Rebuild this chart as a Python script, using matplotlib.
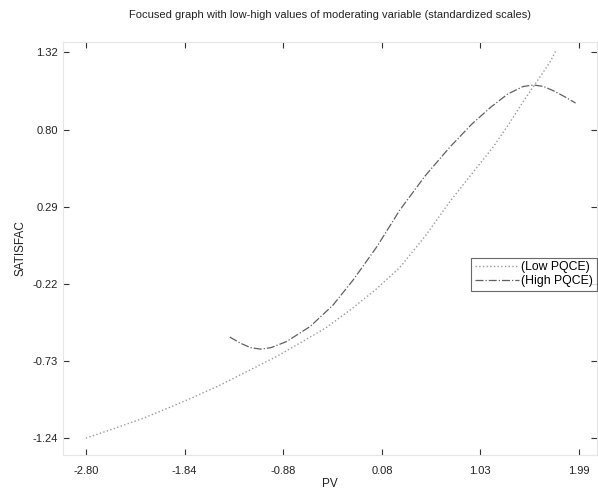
import numpy as np
import matplotlib
matplotlib.use('Agg')
import matplotlib.pyplot as plt

plt.rcParams['font.family'] = ['Liberation Sans', 'DejaVu Sans']

# values
low_x = [-2.80, -2.50, -2.25, -2.00, -1.76, -1.50, -1.21, -0.95, -0.72, -0.47,
         -0.23, 0.01, 0.25, 0.50, 0.74, 0.95, 1.16, 1.32, 1.45, 1.58, 1.71, 1.77]
low_y = [-1.24, -1.17, -1.11, -1.04, -0.97, -0.89, -0.79, -0.70, -0.61, -0.51,
         -0.39, -0.26, -0.11, 0.10, 0.33, 0.51, 0.69, 0.85, 0.99, 1.12, 1.25, 1.33]

high_x = [-1.40, -1.30, -1.20, -1.10, -1.00, -0.85, -0.62, -0.40, -0.20, 0.03,
          0.25, 0.50, 0.74, 0.95, 1.13, 1.30, 1.45, 1.55, 1.65, 1.75, 1.86, 1.96]
high_y = [-0.57, -0.61, -0.64, -0.65, -0.64, -0.60, -0.50, -0.36, -0.19, 0.03,
          0.27, 0.50, 0.69, 0.84, 0.95, 1.04, 1.09, 1.10, 1.09, 1.06, 1.02, 0.98]

x_ticks = [-2.80, -1.84, -0.88, 0.08, 1.03, 1.99]
y_ticks = [-1.24, -0.73, -0.22, 0.29, 0.80, 1.32]

fig = plt.figure(figsize=(5.98, 4.92), dpi=100)
ax = fig.add_axes([0.105, 0.075, 0.893, 0.84])

ax.plot(low_x, low_y, linestyle=':', color='#9a9a9a', linewidth=1.0, label='(Low PQCE)')
ax.plot(high_x, high_y, linestyle='-.', color='#606060', linewidth=0.9, label='(High PQCE)')

ax.set_xlim(-3.024, 2.166)
ax.set_ylim(-1.352, 1.386)
ax.set_xticks(x_ticks)
ax.set_xticklabels(['%.2f' % v for v in x_ticks])
ax.set_yticks(y_ticks)
ax.set_yticklabels(['%.2f' % v for v in y_ticks])

ax.tick_params(direction='in', length=4, width=0.8, color='#333333',
               labelsize=8, labelcolor='#222222', top=True, right=True)
ax.tick_params(axis='x', pad=8)
for s in ax.spines.values():
    s.set_color('#e6e6e6')
    s.set_linewidth(0.8)

ax.set_title('Focused graph with low-high values of moderating variable (standardized scales)',
             fontsize=8, color='#222222', pad=17)
ax.set_xlabel('PV', fontsize=8.5, color='#222222', labelpad=1)
ax.set_ylabel('SATISFAC', fontsize=8.5, color='#222222', labelpad=4)

leg = ax.legend(loc='center right', bbox_to_anchor=(1.0, 0.438), fontsize=8.8,
                frameon=True, fancybox=False, handlelength=3.6, borderpad=0.3,
                labelspacing=0.15, handletextpad=0.2, borderaxespad=0.0)
leg.get_frame().set_edgecolor('#444444')
leg.get_frame().set_linewidth(0.8)

fig.savefig('out.png', dpi=100)
